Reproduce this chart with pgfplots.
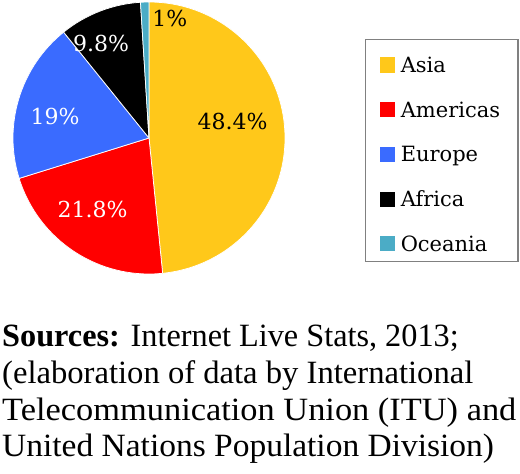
\documentclass[border=0pt]{standalone}
\usepackage{pgfplots}
\pgfplotsset{compat=1.18}
\usepackage{pgfplotstable}
\usepackage{fontspec}
\setmainfont{Liberation Serif}
\newfontfamily\labfont{DejaVu Serif}

\definecolor{cAsia}{HTML}{FFC81A}
\definecolor{cAmer}{HTML}{FF0000}
\definecolor{cEuro}{HTML}{3A6BFF}
\definecolor{cAfri}{HTML}{000000}
\definecolor{cOcea}{HTML}{4BACC6}

\pgfplotstableread{
region value col
Asia 48.4 cAsia
Americas 21.8 cAmer
Europe 19 cEuro
Africa 9.8 cAfri
Oceania 1 cOcea
}\piedata
\pgfplotstableread{
lx ly lab
0.614 0.118 48.4
0.154 0.882 1
}\labblack
\pgfplotstableread{
lx ly lab
-0.415 -0.522 21.8
-0.691 0.158 19
-0.353 0.695 9.8
}\labwhite

\begin{document}
\begin{tikzpicture}
\useasboundingbox (0pt,0pt) rectangle (520pt,-474pt);
% precompute the wedges from the table
\gdef\piecmds{}
\gdef\cum{90}
\pgfplotsforeachungrouped \i in {0,...,4}{%
  \pgfplotstablegetelem{\i}{value}\of\piedata
  \let\pval\pgfplotsretval
  \pgfplotstablegetelem{\i}{col}\of\piedata
  \let\pcol\pgfplotsretval
  \pgfmathsetmacro\endA{\cum-3.6*\pval}%
  \xdef\piecmds{\unexpanded\expandafter{\piecmds}%
    \noexpand\fill[fill=\pcol, draw=white, line width=0.75pt] (axis cs:0,0) -- ++(\cum:136pt)
      arc[start angle=\cum, end angle=\endA, radius=136pt] -- cycle;}%
  \xdef\cum{\endA}%
}
\begin{axis}[
  at={(149pt,-138pt)}, anchor=center,
  scale only axis, width=272pt, height=272pt,
  xmin=-1, xmax=1, ymin=-1, ymax=1,
  hide axis, clip=false,
  legend cell align=left,
  legend style={
    at={(axis description cs:1.294,0.864)}, anchor=north west,
    draw=gray, line width=1.2pt,
    font=\labfont\fontsize{21}{25}\selectfont,
    inner xsep=14pt, inner ysep=5pt,
    row sep=11.7pt, column sep=6pt,
    nodes={inner sep=0pt, text height=28pt, text depth=5pt},
  },
  labs/.style={forget plot, draw=none, mark=none,
    point meta=explicit symbolic,
    nodes near coords={\pgfplotspointmeta\%},
    nodes near coords align={center},
    every node near coord/.append style={anchor=center, inner sep=0pt, text=#1,
      font=\labfont\fontsize{22}{26}\selectfont}},
]
\piecmds
\addlegendimage{legend image code/.code={\fill[cAsia] (0pt,-11pt) rectangle (14pt,3pt);}}
\addlegendentry{Asia}
\addlegendimage{legend image code/.code={\fill[cAmer] (0pt,-11pt) rectangle (14pt,3pt);}}
\addlegendentry{Americas\hspace*{4pt}}
\addlegendimage{legend image code/.code={\fill[cEuro] (0pt,-11pt) rectangle (14pt,3pt);}}
\addlegendentry{Europe}
\addlegendimage{legend image code/.code={\fill[cAfri] (0pt,-11pt) rectangle (14pt,3pt);}}
\addlegendentry{Africa}
\addlegendimage{legend image code/.code={\fill[cOcea] (0pt,-11pt) rectangle (14pt,3pt);}}
\addlegendentry{Oceania}
\addplot[labs=black] table[x=lx, y=ly, meta=lab] {\labblack};
\addplot[labs=white] table[x=lx, y=ly, meta=lab] {\labwhite};
\end{axis}
\begin{scope}[every node/.style={anchor=base west, inner sep=0pt, font=\fontsize{32.5}{36}\selectfont}]
\node at (2pt,-346.5pt) {\scalebox{0.993}[1]{\textbf{Sources:} Internet Live Stats, 2013;}};
\node at (2pt,-383.3pt) {\scalebox{1.004}[1]{(elaboration of data by International}};
\node at (2pt,-420pt) {\scalebox{1.058}[1]{Telecommunication Union (ITU) and}};
\node at (2pt,-456.8pt) {\scalebox{1.03}[1]{United Nations Population Division)}};
\end{scope}
\end{tikzpicture}
\end{document}
